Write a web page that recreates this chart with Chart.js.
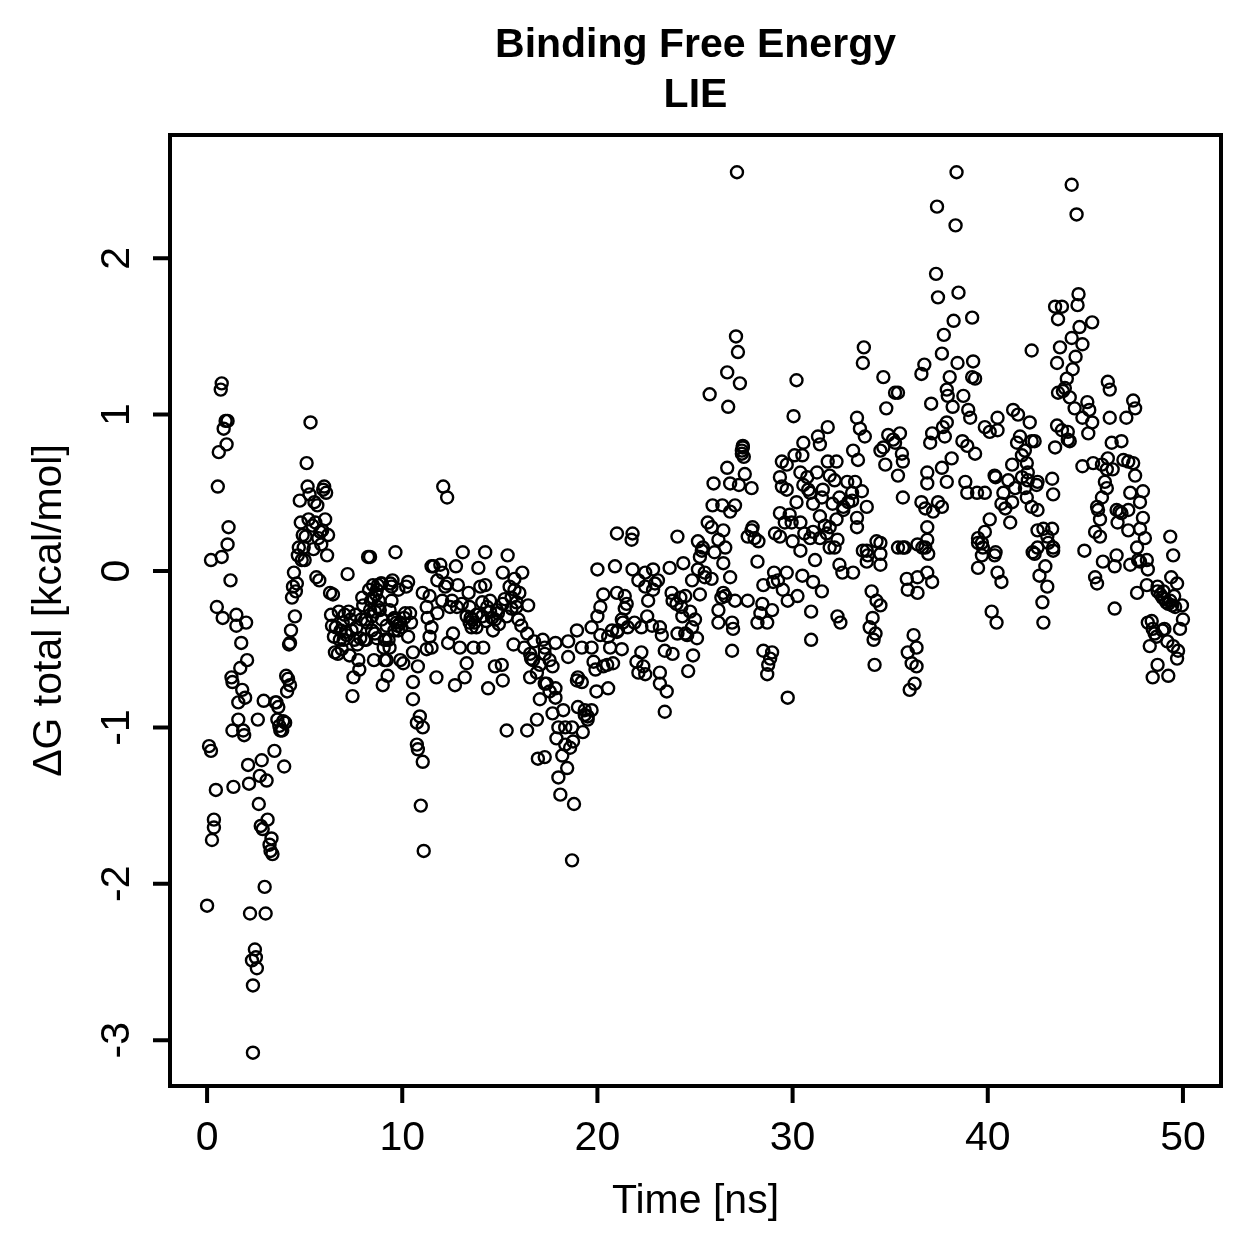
<!DOCTYPE html>
<html>
<head>
<meta charset="utf-8">
<script src="https://cdn.jsdelivr.net/npm/chart.js@4/dist/chart.umd.min.js"></script>
<style>
  html, body { margin: 0; padding: 0; background: #ffffff; }
  #wrap { width: 1259px; height: 1259px; }
</style>
</head>
<body>
<div id="wrap"><canvas id="lieChart" width="1259" height="1259"></canvas></div>
<script>
// ===== LIE binding free energy scatter =====

const titleLines = ['Binding Free Energy', 'LIE'];
const xLabel = 'Time [ns]';
const yLabel = '\u0394G total [kcal/mol]';
const xTicks = [0, 10, 20, 30, 40, 50];
const yTicks = [-3, -2, -1, 0, 1, 2];

// [time ns, dG kcal/mol]
const startPhase = [
  [0.0,-2.14],[0.1,-1.12],[0.2,-1.15],[0.2,0.07],[0.25,-1.72],[0.35,-1.59],[0.35,-1.64],[0.45,-1.40],
  [0.5,-0.23],[0.55,0.54],[0.6,0.76],[0.7,1.16],[0.75,1.20],[0.75,0.09],[0.8,-0.30],[0.85,0.91],
  [0.95,0.96],[1.0,0.81],[1.05,0.96],[1.05,0.17],[1.1,0.28],[1.2,-0.06],[1.25,-0.68],[1.3,-0.71],
  [1.3,-1.02],[1.35,-1.38],[1.5,-0.35],[1.5,-0.28],[1.6,-0.84],[1.6,-0.95],[1.7,-0.62],[1.75,-0.46],
  [1.8,-0.76],[1.85,-1.02],[1.9,-1.05],[1.95,-0.81],[2.0,-0.33],[2.05,-0.57],[2.1,-1.24],[2.15,-1.36],
  [2.2,-2.19],[2.3,-2.49],[2.35,-2.65],[2.35,-3.08],[2.45,-2.42],[2.5,-2.47],[2.55,-2.54],[2.6,-0.95],
  [2.65,-1.49],[2.7,-1.31],[2.75,-1.63],[2.8,-1.21],[2.85,-1.65],[2.9,-0.83],[2.95,-2.02],[3.0,-2.19],
  [3.05,-1.34],[3.1,-1.59],[3.2,-1.75],[3.25,-1.79],[3.3,-1.71],[3.35,-1.81],[3.45,-1.15],[3.5,-0.84],
  [3.55,-0.84],[3.6,-0.95],[3.65,-0.87],[3.7,-0.99],[3.75,-1.02],[3.85,-1.02],[3.9,-0.96],[3.95,-1.25],
  [4.0,-0.97],[4.05,-0.67],[4.1,-0.77],[4.15,-0.69],[4.2,-0.47],[4.25,-0.46],[4.25,-0.73],[4.3,-0.38],
  [4.35,-0.17],[4.4,-0.10],[4.45,-0.01],[4.5,-0.29],[4.55,-0.13],[4.6,-0.08],[4.65,0.10],[4.7,0.15],
  [4.75,0.45],[4.8,0.31],[4.85,0.07],[4.9,0.23],[4.95,0.15],[5.0,0.07],[5.05,0.22],[5.1,0.69],
  [5.15,0.54],[5.2,0.33],[5.25,0.49],[5.3,0.95],[5.4,0.29],[5.45,0.14],[5.5,0.44],[5.55,0.31],
  [5.6,-0.04],[5.65,0.42],[5.7,0.21],[5.75,-0.06],[5.8,0.25],[5.85,0.17],[5.9,0.26],[5.95,0.52],
  [6.0,0.54],[6.05,0.33],[6.1,0.50],[6.15,0.10],[6.2,0.23]
];

const plateauPhase = [
  [6.3,-0.14],[6.35,-0.28],[6.4,-0.35],[6.45,-0.15],[6.5,-0.42],[6.55,-0.52],[6.6,-0.36],[6.7,-0.53],
  [6.75,-0.26],[6.8,-0.44],[6.85,-0.38],[6.9,-0.50],[6.95,-0.33],[7.0,-0.44],[7.05,-0.28],[7.1,-0.39],
  [7.15,-0.41],[7.2,-0.02],[7.25,-0.26],[7.3,-0.54],[7.35,-0.31],[7.4,-0.38],[7.45,-0.80],[7.5,-0.68],
  [7.55,-0.44],[7.6,-0.28],[7.65,-0.36],[7.7,-0.47],[7.75,-0.57],[7.8,-0.63],[7.85,-0.43],[7.9,-0.31],
  [7.95,-0.17],[8.0,-0.22],[8.05,-0.44],[8.1,-0.31],[8.15,-0.44],[8.2,-0.33],[8.25,0.09],[8.3,-0.12],
  [8.35,-0.25],[8.35,0.09],[8.4,-0.19],[8.45,-0.38],[8.45,-0.29],[8.5,-0.09],[8.5,-0.17],[8.55,-0.57],
  [8.6,-0.26],[8.6,-0.40],[8.65,-0.15],[8.7,-0.43],[8.7,-0.12],[8.75,-0.09],[8.75,-0.23],[8.8,-0.19],
  [8.85,-0.25],[8.9,-0.08],[8.95,-0.31],[8.95,-0.08],[9.0,-0.73],[9.05,-0.49],[9.1,-0.57],[9.1,-0.44],
  [9.15,-0.44],[9.2,-0.35],[9.2,-0.57],[9.25,-0.67],[9.3,-0.44],[9.35,-0.25],[9.35,-0.49],[9.4,-0.08],
  [9.45,-0.19],[9.45,-0.10],[9.5,-0.06],[9.55,-0.31],[9.6,-0.38],[9.6,-0.30],[9.65,0.12],[9.7,-0.33],
  [9.75,-0.35],[9.8,-0.12],[9.8,-0.38],[9.9,-0.57],[9.9,-0.33],[9.95,-0.36],[10.05,-0.59],[10.1,-0.30],
  [10.15,-0.27],[10.2,-0.10],[10.3,-0.42],[10.3,-0.07],[10.4,-0.27],[10.45,-0.33],[10.55,-0.52],[10.55,-0.71],
  [10.55,-0.82],[10.75,-0.97],[10.75,-1.11],[10.8,-1.14],[10.8,-0.61],[10.9,-0.93],[10.95,-1.50],[11.05,-1.00],
  [11.05,-1.22],[11.05,-0.14],[11.1,-1.79],[11.25,-0.50],[11.25,-0.23],[11.3,-0.30],[11.4,-0.16],[11.4,-0.42],
  [11.5,-0.36],[11.5,-0.49],[11.5,0.03],[11.6,0.03],[11.75,-0.68],[11.8,-0.06],[11.8,-0.27],[11.95,0.04],
  [12.05,-0.01],[12.05,-0.19],[12.1,0.54],[12.2,-0.10],[12.3,0.47],[12.3,-0.08],[12.35,-0.46],[12.45,-0.23],
  [12.55,-0.19],[12.6,-0.40],[12.7,-0.73],[12.75,0.03],[12.8,-0.23],[12.85,-0.09],[12.95,-0.49],[13.05,-0.21],
  [13.1,0.12],[13.2,-0.68],[13.3,-0.59],[13.3,-0.29],[13.4,-0.14],[13.45,-0.23],[13.45,-0.33],[13.5,-0.30],
  [13.55,-0.36],[13.6,-0.31],[13.65,-0.49],[13.7,-0.33],[13.8,-0.28],[13.8,-0.36],[13.9,0.02],[14.0,-0.10],
  [14.1,-0.20],[14.1,-0.29],[14.15,-0.49],[14.25,0.12],[14.25,-0.09],[14.3,-0.32],[14.35,-0.23],[14.4,-0.75],
  [14.5,-0.26],[14.5,-0.19],[14.6,-0.30],[14.65,-0.38],[14.75,-0.61],[14.75,-0.31],[14.85,-0.25],[14.9,-0.27],
  [14.95,-0.34],[15.1,-0.60],[15.15,-0.70],[15.15,-0.01],[15.15,-0.21],[15.25,-0.18],[15.35,-1.02],[15.35,-0.29],
  [15.4,0.10],[15.5,-0.10],[15.6,-0.24],[15.6,-0.17],[15.7,-0.47],[15.75,-0.05],[15.75,-0.12],[15.85,-0.20],
  [15.85,-0.23],[15.95,-0.31],[16.0,-0.14],[16.1,-0.35],[16.15,-0.01],[16.25,-0.49],[16.4,-1.02],[16.4,-0.40],
  [16.45,-0.22],[16.55,-0.68],[16.55,-0.53],[16.6,-0.56],[16.7,-0.57],[16.75,-0.45],[16.9,-0.95],[16.9,-0.65],
  [16.95,-1.20],[17.05,-0.60],[17.05,-0.82],[17.2,-0.44]
];

const dipPhase = [
  [17.3,-1.19],[17.3,-0.53],[17.3,-0.72],[17.3,-0.49],[17.4,-0.72],[17.55,-0.77],[17.55,-0.57],[17.7,-0.91],
  [17.7,-0.61],[17.85,-0.75],[17.85,-0.46],[17.85,-0.81],[17.9,-1.07],[18.0,-1.32],[18.0,-1.00],[18.1,-1.43],
  [18.2,-1.18],[18.25,-0.89],[18.35,-1.11],[18.35,-1.00],[18.45,-1.26],[18.5,-0.55],[18.5,-0.45],[18.6,-1.13],
  [18.7,-1.85],[18.7,-1.00],[18.75,-1.09],[18.8,-1.49],[18.95,-0.38],[18.95,-0.70],[19.0,-0.87],[19.0,-0.68],
  [19.2,-0.49],[19.2,-0.71],[19.25,-1.03],[19.35,-0.92],[19.35,-0.89],[19.5,-0.95],[19.5,-0.93],[19.7,-0.89],
  [19.7,-0.49],[19.7,-0.36],[19.8,-0.58],[19.9,-0.63],[19.95,-0.77],[20.0,-0.29],[20.0,0.01],[20.15,-0.41],
  [20.15,-0.23],[20.3,-0.15],[20.3,-0.61],[20.5,-0.60],[20.55,-0.75],[20.55,-0.42],[20.65,-0.49],[20.75,-0.38],
  [20.8,-0.59],[20.9,0.03],[21.0,-0.39],[21.0,-0.14],[21.0,0.24],[21.05,-0.38],[21.25,-0.50],[21.25,-0.31],
  [21.3,-0.33],[21.4,-0.16],[21.4,-0.24],[21.5,-0.21],[21.55,-0.36],[21.75,0.20],[21.8,0.24],[21.8,0.01],
  [21.9,-0.33],[22.0,-0.58],[22.1,-0.65],[22.1,-0.06],[22.25,-0.36],[22.25,-0.52],[22.35,-0.61],[22.45,-0.66],
  [22.45,-0.01],[22.45,-0.10],[22.55,-0.29],[22.6,-0.19],[22.8,-0.35],[22.85,0.01],[22.85,-0.12],[22.95,-0.08],
  [23.1,-0.06],[23.2,-0.36],[23.2,-0.65],[23.2,-0.72],[23.3,-0.41],[23.45,-0.51],[23.45,-0.90],[23.55,-0.77],
  [23.7,0.02],[23.8,-0.14],[23.85,-0.53],[23.85,-0.19],[24.05,-0.21],[24.1,0.22],[24.1,-0.40],[24.25,-0.17],
  [24.3,-0.23],[24.35,-0.29],[24.4,0.05],[24.5,-0.16],[24.5,-0.40],[24.6,-0.41],[24.65,-0.64],[24.75,-0.26],
  [24.85,-0.06],[24.85,-0.36],[24.9,-0.54],[25.0,-0.31],[25.1,-0.43],[25.15,0.01],[25.15,0.19],[25.25,-0.15],
  [25.25,0.09],[25.35,0.13],[25.4,0.15],[25.5,-0.04],[25.5,-0.01],[25.65,0.31],[25.75,1.13],[25.85,0.28],
  [25.85,-0.05],[25.9,0.42],[25.95,0.56],[26.0,0.12],[26.2,-0.25],[26.2,-0.33],[26.2,0.20],[26.35,-0.17],
  [26.4,0.42]
];

const risePhase = [
  [26.45,0.26],[26.45,0.05],[26.45,-0.14],[26.55,-0.16],[26.55,0.15],[26.65,1.27],[26.65,0.66],[26.7,1.05],
  [26.8,0.56],[26.8,0.38],[26.8,-0.04],[26.9,-0.33],[26.9,-0.51],[26.95,-0.37],[27.05,0.42],[27.05,-0.19],
  [27.1,1.50],[27.15,2.55],[27.2,1.40],[27.25,0.55],[27.3,1.20],[27.4,0.75],[27.4,0.77],[27.45,0.79],
  [27.45,0.80],[27.5,0.73],[27.55,0.62],[27.7,0.22],[27.7,-0.19],[27.9,0.53],[27.9,0.26],[27.95,0.28],
  [28.05,0.21],[28.2,0.06],[28.2,-0.33],[28.25,0.19],[28.35,-0.27],[28.45,-0.21],[28.5,-0.09],[28.5,-0.51],
  [28.7,-0.33],[28.7,-0.66],[28.75,-0.60],[28.85,-0.56],[28.95,-0.52],[28.95,-0.25],[29.0,-0.07],[29.05,-0.01],
  [29.1,0.24],[29.25,-0.06],[29.35,0.22],[29.35,0.60],[29.35,0.37],[29.45,0.70],[29.45,0.54],[29.5,-0.12],
  [29.6,0.31],[29.7,0.68],[29.7,0.52],[29.7,-0.01],[29.75,-0.19],[29.75,-0.81],[29.85,0.36],[29.95,0.31],
  [30.0,0.19],[30.05,0.99],[30.1,0.74],[30.2,1.22],[30.2,0.44],[30.25,-0.16],[30.4,0.63],[30.4,0.13],
  [30.4,0.31],[30.5,0.74],[30.5,-0.03],[30.55,0.82],[30.55,0.55],[30.6,0.24],[30.75,0.60],[30.8,0.52],
  [30.9,0.21],[30.9,0.50],[30.95,-0.26],[30.95,-0.44],[31.05,0.43],[31.05,-0.07],[31.05,0.25],[31.15,0.07],
  [31.25,0.63],[31.3,0.86],[31.4,0.81],[31.4,0.21],[31.4,0.35],[31.5,-0.13],[31.5,0.47],[31.55,0.52],
  [31.65,0.29],[31.75,0.24],[31.8,0.92],[31.8,0.70],[31.9,0.61],[31.9,0.15],[31.9,0.28],[32.05,0.43],
  [32.15,0.58],[32.15,0.15],[32.25,0.70],[32.25,0.33],[32.3,-0.29],[32.3,0.20],[32.4,0.04],[32.4,0.47],
  [32.45,-0.33],[32.55,-0.01],[32.6,0.41],[32.6,0.39],[32.8,0.57],[32.85,0.44],[33.05,0.50],[33.05,0.45],
  [33.1,0.77],[33.1,-0.01],[33.2,0.57],[33.3,0.98],[33.3,0.28],[33.3,0.34],[33.35,0.71],[33.45,0.91],
  [33.55,0.51],[33.6,1.33],[33.6,0.13],[33.65,1.43],[33.7,0.86],[33.8,0.41],[33.8,0.13],[33.8,0.06],
  [33.85,0.10],[33.95,-0.36],[34.05,-0.13],[34.1,-0.30],[34.15,-0.44],[34.2,-0.60],[34.25,-0.40],[34.3,0.19],
  [34.3,-0.19],[34.5,0.77],[34.5,0.18],[34.5,0.04],[34.5,0.11],[34.5,-0.22],[34.65,1.24],[34.65,0.79],
  [34.75,0.68],[34.8,1.04],[34.9,0.87],[35.15,0.84],[35.25,1.14],[35.25,0.82],[35.4,1.14],[35.4,0.61],
  [35.4,0.15],[35.5,0.88],[35.6,0.75],[35.65,0.70],[35.65,0.47],[35.65,0.15],[35.75,0.15]
];

const peakPhase = [
  [35.85,-0.05],[35.9,-0.12],[35.9,-0.52],[36.0,-0.76],[36.1,-0.59],[36.2,-0.41],[36.25,-0.72],[36.35,-0.49],
  [36.35,-0.61],[36.4,-0.04],[36.4,-0.14],[36.4,0.17],[36.6,1.26],[36.6,0.44],[36.65,0.15],[36.75,1.32],
  [36.8,0.40],[36.8,0.15],[36.9,0.63],[36.9,0.56],[36.9,0.28],[36.9,0.20],[36.9,-0.01],[36.95,0.11],
  [37.05,0.82],[37.1,1.07],[37.15,0.88],[37.15,-0.07],[37.2,0.38],[37.35,1.90],[37.4,2.33],[37.45,1.75],
  [37.45,0.44],[37.65,1.39],[37.65,0.66],[37.65,0.41],[37.7,0.92],[37.75,1.51],[37.8,0.86],[37.9,1.16],
  [37.9,0.95],[37.9,0.57],[37.95,1.12],[38.05,1.24],[38.15,0.72],[38.2,1.05],[38.25,1.60],[38.35,2.21],
  [38.4,2.55],[38.45,1.33],[38.5,1.78],[38.7,0.83],[38.75,1.12],[38.85,0.57],[38.95,0.80],[38.95,0.50],
  [39.0,1.03],[39.1,0.98],[39.2,1.62],[39.2,1.24],[39.25,1.34],[39.35,1.23],[39.35,0.75],[39.45,0.50],
  [39.5,0.21],[39.5,0.18],[39.5,0.02],[39.7,0.18],[39.7,0.10],[39.75,0.15],[39.85,0.92],[39.85,0.50],
  [39.85,0.25],[40.1,0.89],[40.1,0.33],[40.2,-0.26],[40.35,0.61],[40.35,0.10],[40.4,0.60],[40.4,0.12],
  [40.45,-0.33],[40.5,0.98],[40.5,0.90],[40.5,-0.01],[40.7,0.43],[40.7,-0.07],[40.8,0.50],[40.9,0.40],
  [41.05,0.58],[41.15,0.31],[41.25,0.68],[41.25,0.44],[41.3,1.03],[41.4,0.53],[41.5,0.82],[41.55,1.00],
  [41.65,0.86],[41.75,0.74],[41.75,0.60],[41.9,0.77],[41.9,0.53],[42.0,0.69],[42.0,0.47],[42.05,0.63],
  [42.05,0.58],[42.15,0.95],[42.25,1.41],[42.25,0.83],[42.25,0.41],[42.3,0.12],[42.4,0.83],[42.4,0.11],
  [42.5,0.55],[42.55,0.57],[42.55,0.39],[42.55,0.15],[42.55,0.26],[42.65,-0.03],[42.8,-0.20],[42.85,0.27],
  [42.85,-0.33],[42.95,0.03],[43.05,0.22],[43.05,-0.10],[43.1,0.18],[43.3,0.59],[43.3,0.27],[43.35,0.49],
  [43.35,0.15],[43.35,0.13],[43.45,0.79],[43.45,1.69],[43.55,0.93],[43.55,1.33],[43.6,1.61],[43.6,1.14],
  [43.7,1.43],[43.8,1.69],[43.8,0.90],[43.85,1.15],[43.95,1.17],[44.05,1.23],[44.1,0.84],[44.1,0.89],
  [44.2,1.11],[44.2,0.83],[44.3,2.47],[44.3,1.49],[44.35,1.29],[44.45,1.04],[44.5,1.37],[44.55,2.28],
  [44.6,1.70],[44.65,1.77],[44.7,1.56],[44.85,1.45],[44.85,0.98],[44.85,0.67],[44.95,0.13],[45.1,1.08],
  [45.15,0.88],[45.2,1.03],[45.35,1.59],[45.35,0.95],[45.4,0.69],[45.5,0.25],[45.5,-0.04],[45.6,-0.08],
  [45.6,0.41],[45.65,0.39],[45.75,0.33],[45.75,0.22],[45.85,0.68],[45.85,0.47],[45.9,0.06],[46.0,0.57],
  [46.1,0.53],[46.1,0.65],[46.15,1.21],[46.15,0.72],[46.25,1.16],[46.25,0.98],[46.35,0.82],[46.4,0.65],
  [46.5,0.03],[46.5,-0.24],[46.6,0.10],[46.6,0.39],[46.65,0.31],[46.75,0.38],[46.85,0.83],[46.85,0.37],
  [46.95,0.71],[47.1,0.98],[47.2,0.70],[47.2,0.39],[47.2,0.26],[47.3,0.50],[47.3,0.04],[47.45,1.09],
  [47.45,0.69],[47.55,1.04],[47.55,0.61],[47.65,0.15],[47.65,-0.14],[47.7,0.07],[47.8,0.44],[47.8,0.27],
  [47.8,0.06],[47.95,0.51],[47.95,0.34],[48.05,0.21],[48.15,0.07],[48.15,-0.09],[48.2,0.01],[48.2,-0.33],
  [48.3,-0.48],[48.4,-0.32],[48.45,-0.68],[48.45,-0.37],[48.55,-0.40],[48.65,-0.42],[48.7,-0.13],[48.7,-0.10],
  [48.7,-0.60],[48.85,-0.15],[48.95,-0.17],[48.95,-0.38],[49.0,-0.13],[49.05,-0.18],[49.05,-0.37],[49.15,-0.20],
  [49.2,-0.45],[49.25,-0.21],[49.25,-0.67],[49.35,0.22],[49.35,-0.19],[49.4,-0.04],[49.45,-0.22],[49.5,0.10],
  [49.5,-0.48],[49.55,-0.16],[49.6,-0.23],[49.7,-0.08],[49.7,-0.56],[49.75,-0.51],[49.85,-0.37],[49.95,-0.22],
  [50.0,-0.31]
];

const allSamples = [].concat(startPhase, plateauPhase, dipPhase, risePhase, peakPhase);

const FONT = '"Liberation Sans", Arial, Helvetica, sans-serif';

// R-style frame, ticks, labels and titles drawn from the chart's own scales
const baseGraphicsPlugin = {
  id: 'baseGraphics',
  afterDraw(chart) {
    const ctx = chart.ctx;
    const area = chart.chartArea;
    const xs = chart.scales.x;
    const ys = chart.scales.y;
    const tickLen = 17;

    ctx.save();
    ctx.strokeStyle = '#000';
    ctx.fillStyle = '#000';
    ctx.lineWidth = 4;
    ctx.strokeRect(area.left, area.top, area.right - area.left, area.bottom - area.top);

    // tick marks
    ctx.beginPath();
    xTicks.forEach(v => {
      const px = xs.getPixelForValue(v);
      ctx.moveTo(px, area.bottom);
      ctx.lineTo(px, area.bottom + tickLen);
    });
    yTicks.forEach(v => {
      const py = ys.getPixelForValue(v);
      ctx.moveTo(area.left, py);
      ctx.lineTo(area.left - tickLen, py);
    });
    ctx.stroke();

    // tick labels
    ctx.font = '41px ' + FONT;
    ctx.textAlign = 'center';
    ctx.textBaseline = 'middle';
    xTicks.forEach(v => {
      ctx.fillText(String(v), xs.getPixelForValue(v), 1139);
    });
    yTicks.forEach(v => {
      const py = ys.getPixelForValue(v);
      ctx.save();
      ctx.translate(118, py);
      ctx.rotate(-Math.PI / 2);
      ctx.fillText(String(v), 0, 0);
      ctx.restore();
    });

    // axis titles
    const cx = (area.left + area.right) / 2;
    const cy = (area.top + area.bottom) / 2;
    ctx.fillText(xLabel, cx, 1202);
    ctx.save();
    ctx.translate(50, cy);
    ctx.rotate(-Math.PI / 2);
    ctx.fillText(yLabel, 0, 0);
    ctx.restore();

    // main title
    ctx.font = 'bold 41px ' + FONT;
    ctx.fillText(titleLines[0], cx, 46);
    ctx.fillText(titleLines[1], cx, 96);
    ctx.restore();
  }
};

function initializeChart() {
  const canvas = document.getElementById('lieChart');

  new Chart(canvas, {
    type: 'scatter',
    data: {
      datasets: [{
        label: 'LIE',
        data: allSamples.map(p => ({ x: p[0], y: p[1] })),
        clip: false
      }]
    },
    options: {
      responsive: false,
      animation: false,
      events: [],
      elements: {
        point: {
          pointStyle: 'circle',
          radius: 6,
          hoverRadius: 6,
          borderWidth: 2.4,
          hoverBorderWidth: 2.4,
          borderColor: '#000',
          backgroundColor: 'rgba(0,0,0,0)'
        }
      },
      layout: { padding: { left: 170, right: 38, top: 135, bottom: 173 } },
      plugins: {
        legend: { display: false },
        tooltip: { enabled: false },
        title: { display: false }
      },
      scales: {
        x: { type: 'linear', min: -1.9, max: 51.95, display: false },
        y: { type: 'linear', min: -3.293, max: 2.788, display: false }
      }
    },
    plugins: [baseGraphicsPlugin]
  });
}

initializeChart();
</script>
</body>
</html>
